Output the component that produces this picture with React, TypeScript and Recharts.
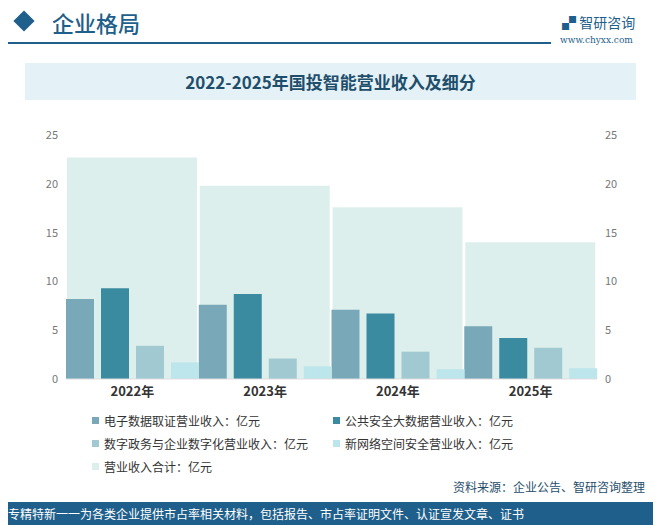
import React from "react";
import { ComposedChart, Bar, XAxis, YAxis } from "recharts";

const years = ["2022年", "2023年", "2024年", "2025年"];
const dzsj = [8.2, 7.6, 7.1, 5.4];
const ggaq = [9.3, 8.7, 6.7, 4.2];
const szzw = [3.4, 2.1, 2.8, 3.2];
const xwaq = [1.7, 1.3, 1.0, 1.1];
const total = [22.7, 19.8, 17.6, 14.0];
const names = ["电子数据取证营业收入：亿元", "公共安全大数据营业收入：亿元", "数字政务与企业数字化营业收入：亿元", "新网络空间安全营业收入：亿元", "营业收入合计：亿元"];
const colors = ["#79A9B9", "#3A8AA0", "#A0C9D1", "#BDE5EC", "#DDEFEC"];

const data = years.map((y, i) => ({ y, a: dzsj[i], b: ggaq[i], c: szzw[i], d: xwaq[i], t: total[i] }));
const font = "'Noto Sans CJK SC', sans-serif";

export default function App() {
  const legendPos = [[92, 420], [333, 420], [92, 443], [333, 443], [92, 466]];
  return (
    <div style={{ position: "relative", width: 661, height: 525, margin: "-8px 0 0 -8px", background: "#fff", fontFamily: font, overflow: "hidden" }}>
      <div style={{ position: "absolute", left: 14, top: 11, width: 20, height: 20, background: "#1F5F8B", transform: "rotate(45deg) scale(0.75)" }} />
      <div style={{ position: "absolute", left: 52, top: 6, fontSize: 22, color: "#1F5F8B", fontWeight: 500 }}>企业格局</div>
      <div style={{ position: "absolute", left: 6, top: 42, width: 545, height: 1.5, background: "#1F5F8B" }} />
      <div style={{ position: "absolute", left: 562, top: 12, fontSize: 14, color: "#1F5F8B" }}>▞ 智研咨询</div>
      <div style={{ position: "absolute", left: 560, top: 35, fontSize: 9, color: "#1F5F8B", fontFamily: "'DejaVu Serif', serif" }}>www.chyxx.com</div>
      <div style={{ position: "absolute", left: 25, top: 63, width: 611, height: 37, background: "#E4F1F7", textAlign: "center", lineHeight: "37px", fontSize: 17, color: "#1F4E6B", fontWeight: 700 }}>
        2022-2025年国投智能营业收入及细分
      </div>
      <div style={{ position: "absolute", left: 0, top: 120 }}>
        <ComposedChart width={657} height={289} data={data} margin={{ top: 15, right: 0, left: 6, bottom: 0 }} barGap={7} barCategoryGap={0}>
          <XAxis xAxisId="t" dataKey="y" hide />
          <XAxis xAxisId="s" dataKey="y" axisLine={{ stroke: "#ddd" }} tickLine={false} tick={{ fontSize: 13, fontWeight: 700, fill: "#333" }} height={30} />
          <YAxis yAxisId="l" domain={[0, 25]} ticks={[0, 5, 10, 15, 20, 25]} axisLine={false} tickLine={false} width={60} tick={{ fontSize: 11, fill: "#777" }} />
          <YAxis yAxisId="r" orientation="right" domain={[0, 25]} ticks={[0, 5, 10, 15, 20, 25]} axisLine={false} tickLine={false} width={60} tick={{ fontSize: 11, fill: "#777" }} />
          <Bar xAxisId="t" yAxisId="r" dataKey="t" fill={colors[4]} barSize={130} isAnimationActive={false} />
          <Bar xAxisId="s" yAxisId="l" dataKey="a" fill={colors[0]} isAnimationActive={false} />
          <Bar xAxisId="s" yAxisId="l" dataKey="b" fill={colors[1]} isAnimationActive={false} />
          <Bar xAxisId="s" yAxisId="l" dataKey="c" fill={colors[2]} isAnimationActive={false} />
          <Bar xAxisId="s" yAxisId="l" dataKey="d" fill={colors[3]} isAnimationActive={false} />
        </ComposedChart>
      </div>
      {names.map((n, i) => (
        <div key={n} style={{ position: "absolute", left: legendPos[i][0], top: legendPos[i][1] - 8, fontSize: 12, color: "#333", display: "flex", alignItems: "center" }}>
          <span style={{ display: "inline-block", width: 7, height: 7, background: colors[i], marginRight: 5 }} />
          {n}
        </div>
      ))}
      <div style={{ position: "absolute", right: 16, top: 478, fontSize: 12, color: "#1F4E6B" }}>资料来源：企业公告、智研咨询整理</div>
      <div style={{ position: "absolute", left: 0, top: 502, width: 661, height: 23, background: "#1F5F8B", color: "#fff", fontSize: 12, lineHeight: "23px", paddingLeft: 8 }}>
        专精特新一一为各类企业提供市占率相关材料，包括报告、市占率证明文件、认证宣发文章、证书
      </div>
    </div>
  );
}
